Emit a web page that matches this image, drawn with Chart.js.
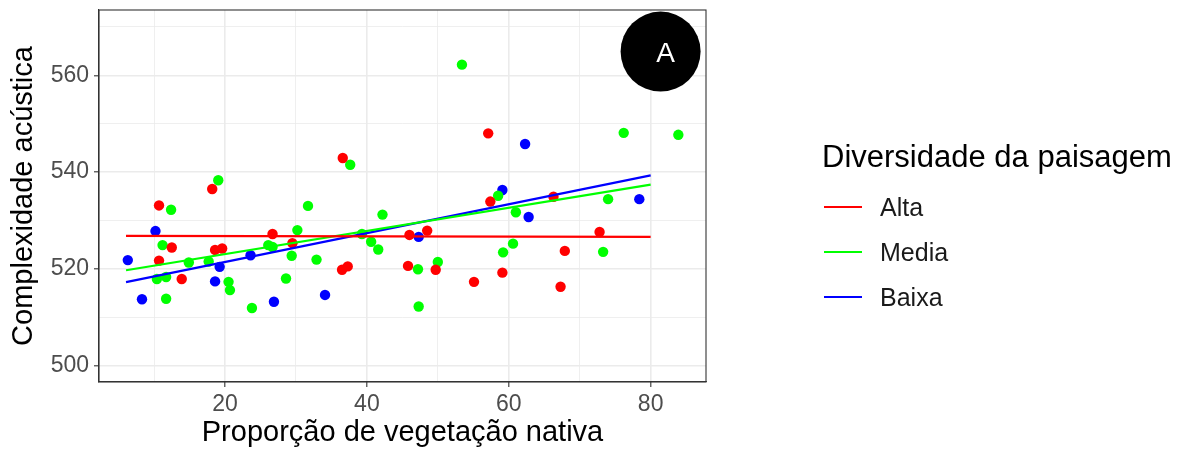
<!DOCTYPE html>
<html>
<head>
<meta charset="utf-8">
<script src="https://cdn.jsdelivr.net/npm/chart.js@4/dist/chart.umd.min.js"></script>
<style>
  html, body { margin: 0; padding: 0; background: #ffffff; }
  #wrap { width: 1184px; height: 450px; }
</style>
</head>
<body>
<div id="wrap"><canvas id="c" width="1184" height="450"></canvas></div>
<script>
// Landscape diversity groups
const groups = ['Alta', 'Media', 'Baixa'];
const groupColors = ['#FF0000', '#00FF00', '#0000FF'];

// Observations: [native vegetation %, acoustic complexity]
const alta = [
  [18.2, 536.5], [36.6, 542.9], [10.7, 533.1], [12.5, 524.4], [10.7, 521.7],
  [13.9, 517.9], [18.6, 523.9], [19.6, 524.2], [26.7, 527.2], [29.5, 525.3],
  [36.5, 519.8], [37.3, 520.5], [46.0, 527.0], [45.8, 520.6], [57.1, 548.0],
  [57.4, 533.9], [66.3, 534.9], [48.5, 527.9], [72.8, 527.6], [67.9, 523.7],
  [49.7, 519.8], [55.1, 517.3], [59.1, 519.2], [67.3, 516.3]
];
const media = [
  [19.05, 538.3], [37.65, 541.5], [12.4, 532.2], [11.2, 524.9], [10.4, 517.9],
  [11.7, 518.3], [11.7, 513.8], [14.9, 521.3], [17.7, 521.5], [20.5, 517.3],
  [20.7, 515.6], [23.8, 511.9], [26.1, 524.9], [26.7, 524.5], [30.2, 528.0],
  [29.4, 522.7], [28.6, 518.0], [31.7, 533.0], [32.9, 521.9], [39.3, 527.2],
  [40.6, 525.6], [41.6, 524.0], [42.2, 531.2], [53.4, 562.2], [76.2, 548.1],
  [83.9, 547.7], [58.5, 535.1], [74.0, 534.4], [61.0, 531.7], [73.3, 523.5],
  [60.6, 525.2], [59.2, 523.4], [47.2, 519.9], [50.0, 521.4], [47.3, 512.2]
];
const baixa = [
  [10.2, 527.8], [6.3, 521.8], [8.3, 513.7], [19.25, 520.4], [18.6, 517.4],
  [23.6, 522.8], [26.9, 513.2], [34.1, 514.6], [62.3, 545.8], [59.1, 536.3],
  [78.4, 534.4], [62.8, 530.7], [47.3, 526.6]
];

// Fitted trend lines: value at the start and end of the fitted range
const fitX = [6.05, 80];
const fitAlta = [526.8, 526.6];
const fitMedia = [519.7, 537.4];
const fitBaixa = [517.25, 539.3];

// Axis ticks (major are labelled, minor only get a faint grid line)
const xTicks = [10, 20, 30, 40, 50, 60, 70, 80];
const xMajor = [20, 40, 60, 80];
const yTicks = [500, 510, 520, 530, 540, 550, 560, 570];
const yMajor = [500, 520, 540, 560];
const xRange = [2.24, 87.8];
const yRange = [496.6, 573.5];

// Panel tag
const tagText = 'A';
const tagAt = [81.4, 564.9];

const FONT = "'Liberation Sans', Arial, sans-serif";

const toPts = arr => arr.map(p => ({ x: p[0], y: p[1] }));
const toLine = ys => fitX.map((x, i) => ({ x: x, y: ys[i] }));

const series = [alta, media, baixa];
const fits = [fitAlta, fitMedia, fitBaixa];

const datasets = [];
fits.forEach((f, i) => {
  datasets.push({
    type: 'line', label: groups[i] + ' fit', data: toLine(f),
    borderColor: groupColors[i], borderWidth: 2.2, pointRadius: 0,
    fill: false, tension: 0, order: 0
  });
});
series.forEach((s, i) => {
  datasets.push({
    type: 'scatter', label: groups[i], data: toPts(s),
    backgroundColor: groupColors[i], borderWidth: 0,
    pointRadius: 5.2, order: 1 + i
  });
});

const majorColor = '#EBEBEB';

const panelPlugin = {
  id: 'panelDecor',
  afterDraw(chart) {
    const { ctx, chartArea: a, scales } = chart;
    ctx.save();
    // panel border
    ctx.strokeStyle = '#333333';
    ctx.lineWidth = 1.1;
    ctx.strokeRect(a.left, a.top, a.right - a.left, a.bottom - a.top);

    // panel tag
    const cx = scales.x.getPixelForValue(tagAt[0]);
    const cy = scales.y.getPixelForValue(tagAt[1]);
    ctx.beginPath();
    ctx.arc(cx, cy, 40, 0, Math.PI * 2);
    ctx.fillStyle = '#000000';
    ctx.fill();
    ctx.fillStyle = '#ffffff';
    ctx.font = '28px ' + FONT;
    ctx.textAlign = 'center';
    ctx.textBaseline = 'middle';
    ctx.fillText(tagText, cx + 5, cy + 3);

    // legend
    ctx.textAlign = 'left';
    ctx.textBaseline = 'alphabetic';
    ctx.fillStyle = '#000000';
    ctx.font = '31px ' + FONT;
    ctx.fillText('Diversidade da paisagem', 822, 167);
    ctx.font = '25px ' + FONT;
    groups.forEach((g, i) => {
      const y = 207 + 45 * i;
      ctx.strokeStyle = groupColors[i];
      ctx.lineWidth = 1.8;
      ctx.beginPath();
      ctx.moveTo(824, y);
      ctx.lineTo(862, y);
      ctx.stroke();
      ctx.fillStyle = '#1a1a1a';
      ctx.textBaseline = 'middle';
      ctx.fillText(g, 880, y + 2);
    });
    ctx.restore();
  }
};

new Chart(document.getElementById('c'), {
  data: { datasets },
  plugins: [panelPlugin],
  options: {
    responsive: false,
    devicePixelRatio: 1,
    animation: false,
    layout: { padding: { left: 0, right: 478, top: 10, bottom: 0 } },
    plugins: { legend: { display: false }, tooltip: { enabled: false } },
    scales: {
      x: {
        type: 'linear', min: xRange[0], max: xRange[1],
        afterBuildTicks: s => { s.ticks = xTicks.map(v => ({ value: v })); },
        afterFit: s => { s.height = 68; s.paddingLeft = 0; s.paddingRight = 0; },
        grid: {
          color: majorColor,
          lineWidth: c => xMajor.includes(c.tick && c.tick.value) ? 1.6 : 0.8,
          tickColor: c => xMajor.includes(c.tick && c.tick.value) ? '#333333' : 'rgba(0,0,0,0)',
          tickWidth: 1.1,
          tickLength: 5
        },
        border: { display: true, color: '#333333', width: 1.1 },
        ticks: {
          autoSkip: false, maxRotation: 0, padding: 4,
          color: '#4D4D4D', font: { family: FONT, size: 23 },
          callback: v => xMajor.includes(v) ? String(v) : ''
        },
        title: {
          display: true, text: 'Proporção de vegetação nativa',
          color: '#000000', font: { family: FONT, size: 29 },
          padding: { top: 0, bottom: 0 }
        }
      },
      y: {
        type: 'linear', min: yRange[0], max: yRange[1],
        afterBuildTicks: s => { s.ticks = yTicks.map(v => ({ value: v })); },
        afterFit: s => { s.width = 99; s.paddingTop = 0; s.paddingBottom = 0; },
        grid: {
          color: majorColor,
          lineWidth: c => yMajor.includes(c.tick && c.tick.value) ? 1.6 : 0.8,
          tickColor: c => yMajor.includes(c.tick && c.tick.value) ? '#333333' : 'rgba(0,0,0,0)',
          tickWidth: 1.1,
          tickLength: 5
        },
        border: { display: true, color: '#333333', width: 1.1 },
        ticks: {
          autoSkip: false, padding: 5,
          color: '#4D4D4D', font: { family: FONT, size: 23 },
          callback: v => yMajor.includes(v) ? String(v) : ''
        },
        title: {
          display: true, text: 'Complexidade acústica',
          color: '#000000', font: { family: FONT, size: 29 },
          padding: { top: 7, bottom: 0 }
        }
      }
    }
  }
});
</script>
</body>
</html>
